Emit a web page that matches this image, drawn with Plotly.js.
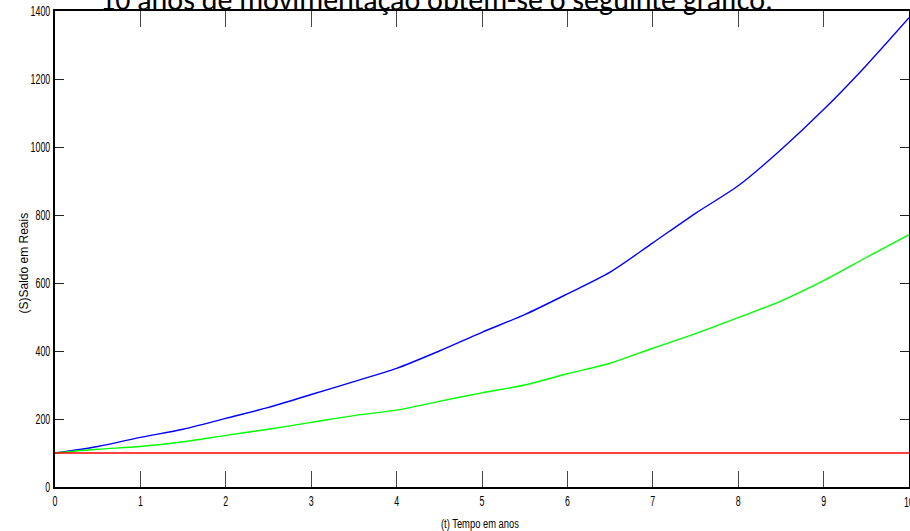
<!DOCTYPE html>
<html>
<head>
<meta charset="utf-8">
<script src="https://cdn.plot.ly/plotly-3.0.1.min.js"></script>
<style>
html,body{margin:0;padding:0;background:#fff;}
#chart{width:910px;height:531px;}
</style>
</head>
<body>
<div id="chart"></div>
<script>
// Time in years
const tempo = [0,0.5,1,1.5,2,2.5,3,3.5,4,4.5,5,5.5,6,6.5,7,7.5,8,8.5,9,9.5,10];
// Balances (reais)
const saldoAzul  = [100,119,146,170,202,234,272,310,349,400,455,507,568,632,718,805,886,992,1110,1240,1380];
const saldoVerde = [100,111,119,133,152,170,190,210,226,252,277,300,333,364,408,451,498,547,607,675,742];
const saldoVermelho = [100,100,100,100,100,100,100,100,100,100,100,100,100,100,100,100,100,100,100,100,100];

const xTicks = [0,1,2,3,4,5,6,7,8,9,10];
const yTicks = [0,200,400,600,800,1000,1200,1400];

const tickFont = {family:'"Liberation Sans", Arial, sans-serif', size:14, color:'#000'};

const traces = [
  {x:tempo, y:saldoAzul, mode:'lines', line:{color:'#0000ff', width:1.4, shape:'spline', smoothing:0.8}, hoverinfo:'skip'},
  {x:tempo, y:saldoVerde, mode:'lines', line:{color:'#00ff00', width:1.4, shape:'spline', smoothing:0.8}, hoverinfo:'skip'},
  {x:tempo, y:saldoVermelho, mode:'lines', line:{color:'#ff0000', width:1.4}, hoverinfo:'skip'}
];

const layout = {
  width:910, height:531,
  margin:{l:55, r:1, t:11, b:44, pad:0},
  paper_bgcolor:'#fff', plot_bgcolor:'#fff',
  showlegend:false,
  font:tickFont,
  xaxis:{
    range:[0,10], tickvals:xTicks, ticktext:xTicks.map(String),
    ticks:'inside', ticklen:16, tickwidth:1, tickcolor:'#444',
    showline:true, linecolor:'#000', linewidth:2, mirror:'allticks',
    showgrid:false, zeroline:false, tickfont:tickFont,
    title:{text:''}
  },
  yaxis:{
    range:[0,1400], tickvals:yTicks, ticktext:yTicks.map(String),
    ticks:'inside', ticklen:9, tickwidth:1, tickcolor:'#222',
    showline:true, linecolor:'#000', linewidth:2, mirror:'allticks',
    showgrid:false, zeroline:false, tickfont:tickFont,
    title:{text:''}
  },
  annotations:[
    {text:'10', xref:'x', yref:'paper', x:10, y:-0.01, xanchor:'center', yanchor:'top', showarrow:false,
     font:tickFont},
    {text:'(t) Tempo em anos', xref:'paper', yref:'paper', x:0.498, y:-0.058, xanchor:'center', yanchor:'top', showarrow:false,
     font:{family:'"Liberation Sans", Arial, sans-serif', size:12, color:'#000'}},
    {text:'(S)Saldo em Reais', xref:'paper', yref:'paper', x:-0.036, y:0.47, xanchor:'center', yanchor:'middle', textangle:-90, showarrow:false,
     font:{family:'"Liberation Sans", Arial, sans-serif', size:12, color:'#000'}},
    {text:'10 anos de movimentação obtem-se o seguinte gráfico:', xref:'paper', yref:'paper', x:0.05, y:0.982, xanchor:'left', yanchor:'bottom', showarrow:false,
     font:{family:'Carlito, Calibri, "Open Sans", sans-serif', size:30, color:'#000'}}
  ]
};

function condenseEl(t, f){
  try{
    const w = t.getComputedTextLength();
    if(w>0){
      t.setAttribute('textLength', (w*f).toFixed(2));
      t.setAttribute('lengthAdjust','spacingAndGlyphs');
    }
  }catch(e){}
}
function condense(sel, f){
  document.querySelectorAll(sel).forEach(function(t){ condenseEl(t, f); });
}

Plotly.newPlot('chart', traces, layout, {displayModeBar:false, staticPlot:true}).then(function(){
  condense('#chart .xtick text', 0.63);
  condense('#chart .ytick text', 0.63);
  const ann = document.querySelectorAll('#chart .annotation-text');
  if(ann[0]) condenseEl(ann[0], 0.63);
  if(ann[1]) condenseEl(ann[1], 0.78);
});
</script>
</body>
</html>
